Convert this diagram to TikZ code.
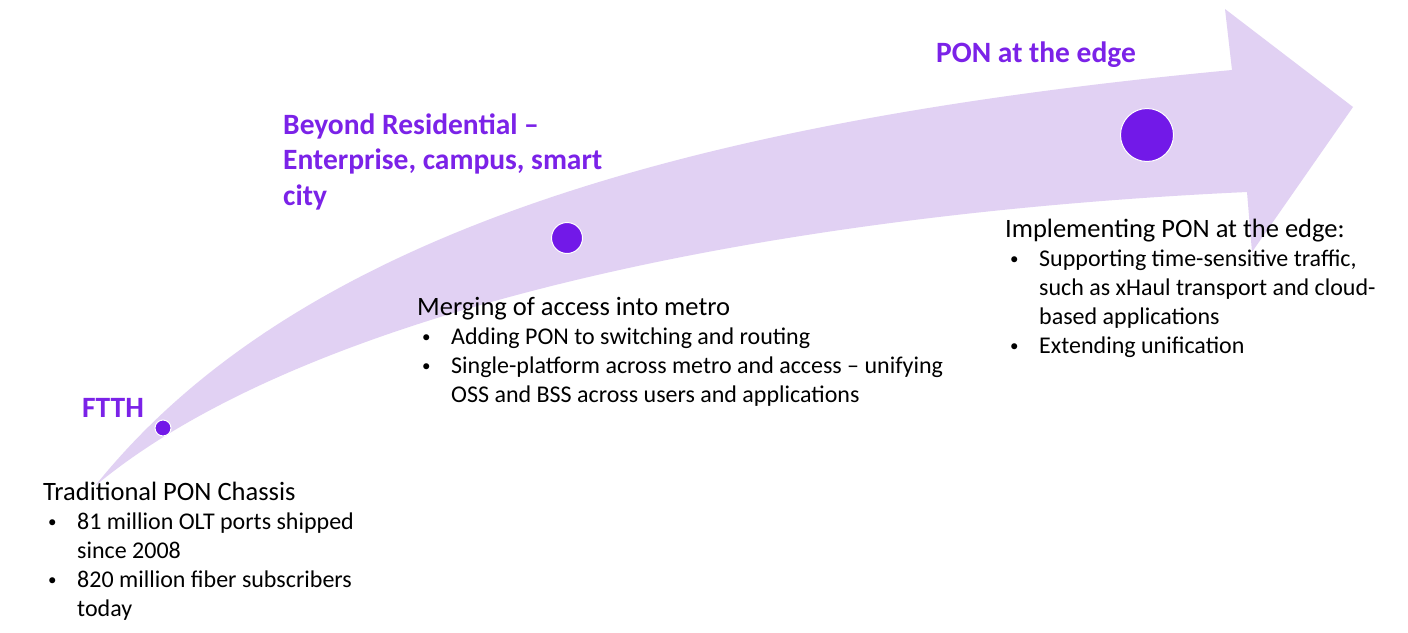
\documentclass[tikz,border=0pt]{standalone}
\usepackage{fontspec}
\setmainfont{Carlito}
\definecolor{band}{HTML}{E1D1F3}
\definecolor{vio}{HTML}{7219E8}
\definecolor{ttlc}{HTML}{7B22E8}
\newcommand{\bul}[1]{\hspace*{5pt}\makebox[29pt][l]{\raisebox{1.5pt}{\fontsize{17}{17}\selectfont •}}#1}
\newcommand{\cont}[1]{\hspace*{34pt}#1}
\newcommand{\hd}[1]{{\fontsize{26.5}{29}\selectfont #1}}
\begin{document}
\begin{tikzpicture}[x=1pt,y=-1pt,
  body/.style={anchor=base west, inner sep=0pt, font=\fontsize{24}{29}\selectfont, align=left},
  ttl/.style={anchor=base west, inner sep=0pt, font=\fontsize{29.5}{35.5}\selectfont\bfseries, text=ttlc, align=left},
  dot/.style={circle, fill=vio, draw=white, line width=1pt, inner sep=0pt}]
\useasboundingbox[fill=white] (0,0) rectangle (1408,632);
\fill[band] (95,486) .. controls (300,230) and (700,120) .. (1232,70) -- (1225,9) -- (1353,107) -- (1252,252) -- (1247,192) .. controls (750,215) and (300,315) .. (95,486) -- cycle;
\node[dot, minimum size=16pt] (d1) at (163,428) {};
\node[dot, minimum size=31pt] (d2) at (567,238) {};
\node[dot, minimum size=53pt] (d3) at (1147,135) {};
\node[ttl] (t1) at (82,417) {FTTH};
\node[ttl] (t2) at (283,205) {Beyond Residential –\\Enterprise, campus, smart\\city};
\node[ttl] (t3) at (936,62) {PON at the edge};
\node[body] (b1) at (43,616) {\hd{Traditional PON Chassis}\\
\bul{81 million OLT ports shipped}\\
\cont{since 2008}\\
\bul{820 million fiber subscribers}\\
\cont{today}};
\node[body] (b2) at (417,402) {\hd{Merging of access into metro}\\
\bul{Adding PON to switching and routing}\\
\bul{Single-platform across metro and access – unifying}\\
\cont{OSS and BSS across users and applications}};
\node[body] (b3) at (1005,353) {\hd{Implementing PON at the edge:}\\
\bul{Supporting time-sensitive traffic,}\\
\cont{such as xHaul transport and cloud-}\\
\cont{based applications}\\
\bul{Extending unification}};
\end{tikzpicture}
\end{document}
